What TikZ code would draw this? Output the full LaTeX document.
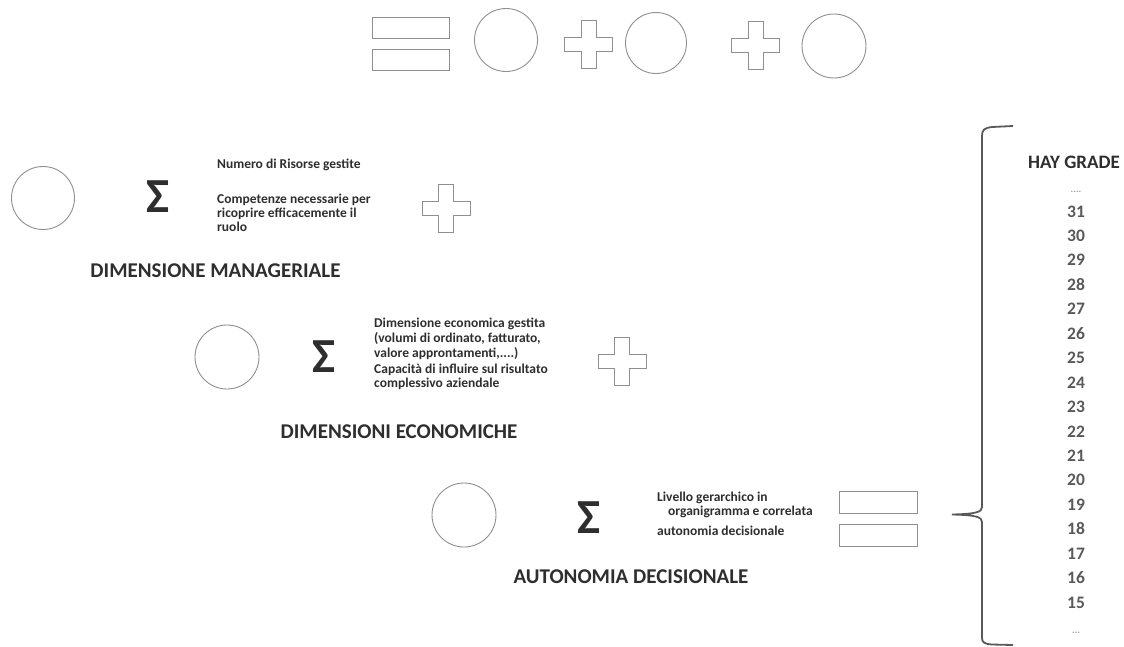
\documentclass[tikz,border=0pt]{standalone}
\usepackage{fontspec}
\setmainfont{Carlito}
\usetikzlibrary{positioning}
\definecolor{HayScuro}{HTML}{2E2E2E}
\definecolor{HayGrigio}{HTML}{595959}
\definecolor{HayLinea}{HTML}{8F8F8F}

\begin{document}
\begin{tikzpicture}[x=1pt,y=-1pt,font=\bfseries,
  cerchio/.style={circle,draw=HayLinea,line width=0.9pt,minimum size=63pt,inner sep=0pt},
  barra/.style={rectangle,draw=HayLinea,line width=0.9pt,minimum width=77pt,minimum height=21pt,inner sep=0pt},
  sigma/.style={text=HayScuro,inner sep=0pt,font=\fontsize{49}{49}\selectfont\bfseries},
  voce/.style={text=HayScuro,anchor=base west,align=left,inner sep=0pt,font=\fontsize{13.5}{14}\selectfont\bfseries},
  titolo/.style={text=HayScuro,anchor=base,inner sep=0pt,font=\fontsize{21}{24}\selectfont\bfseries},
  grado/.style={text=HayGrigio,anchor=base,inner sep=0pt,font=\fontsize{17.5}{20}\selectfont\bfseries},
  piu/.pic={\draw[HayLinea,line width=1pt] (-7.5,-24) -- (7.5,-24) -- (7.5,-7) -- (24,-7) -- (24,7) -- (7.5,7) -- (7.5,24) -- (-7.5,24) -- (-7.5,7) -- (-24,7) -- (-24,-7) -- (-7.5,-7) -- cycle;}]
  \useasboundingbox (0,0) rectangle (1124,646);

  % --- formula in alto : = O + O + O ---
  \node[barra] (ugualeA) at (411,27.5) {};
  \node[barra,below=11pt of ugualeA] (ugualeB) {};
  \node[cerchio] (totale) at (506,40) {};
  \pic at (588.5,44) {piu};
  \node[cerchio,minimum size=61pt] (totaleB) at (656,43) {};
  \pic at (755.5,45) {piu};
  \node[cerchio,minimum size=64pt] (totaleC) at (834,46) {};

  % --- dimensione manageriale ---
  \node[cerchio] (manag) at (43,198) {};
  \node[sigma] (sigmaM) at (158,197) {Σ};
  \node[voce] (risorse) at (217,168) {Numero di Risorse gestite};
  \node[voce] (competenze) at (217,231) {Competenze necessarie per\\ricoprire efficacemente il\\ruolo};
  \pic at (446,208) {piu};
  \node[titolo] (titManag) at (215.5,277) {DIMENSIONE MANAGERIALE};

  % --- dimensioni economiche ---
  \node[cerchio,minimum size=64pt] (econ) at (227,357) {};
  \node[sigma] (sigmaE) at (324,357) {Σ};
  \node[voce,font=\fontsize{13.5}{15}\selectfont\bfseries] (volumi) at (374,357) {Dimensione economica gestita\\(volumi di ordinato, fatturato,\\valore approntamenti,....)};
  \node[voce,font=\fontsize{13.5}{13.5}\selectfont\bfseries] (influire) at (374,387) {Capacità di influire sul risultato\\complessivo aziendale};
  \pic at (622,361) {piu};
  \node[titolo] (titEcon) at (399,438) {DIMENSIONI ECONOMICHE};

  % --- autonomia decisionale ---
  \node[cerchio,minimum size=64pt] (auton) at (464,515) {};
  \node[sigma] (sigmaA) at (589,518) {Σ};
  \node[voce] (livello) at (657,535) {Livello gerarchico in\\\hspace*{11pt}organigramma e correlata\\[6pt]autonomia decisionale};
  \node[barra,minimum width=78pt,minimum height=22pt] (livelloA) at (878,502) {};
  \node[barra,minimum width=78pt,minimum height=22pt,below=11pt of livelloA] (livelloB) {};
  \node[titolo] (titAuton) at (631,583) {AUTONOMIA DECISIONALE};

  % --- graffa e scala HAY ---
  \coordinate (punta) at (952,514.5);
  \draw[HayGrigio,line width=1.8pt] (1013,126) -- (992,127) .. controls (984,128) and (982,130) .. (982,136)
    -- (982,507) .. controls (982,512) and (976,514) .. (punta)
    .. controls (976,515) and (982,517) .. (982,522)
    -- (982,638) .. controls (982,642) and (984,644) .. (992,644.5) -- (1013,645);
  \node[titolo,font=\fontsize{19}{22}\selectfont\bfseries] (hay) at (1074,168) {HAY GRADE};
  \node[grado,text=HayGrigio!60,font=\fontsize{10}{12}\selectfont\bfseries] (sopra) at (1076,192.5) {....};
  \foreach \n in {31,30,...,15}
    \node[grado] (g\n) at (1076,{217+24.45*(31-\n)}) {\n};
  \node[grado,text=HayGrigio!60,font=\fontsize{10}{12}\selectfont\bfseries] (sotto) at (1076,633) {...};
\end{tikzpicture}
\end{document}
